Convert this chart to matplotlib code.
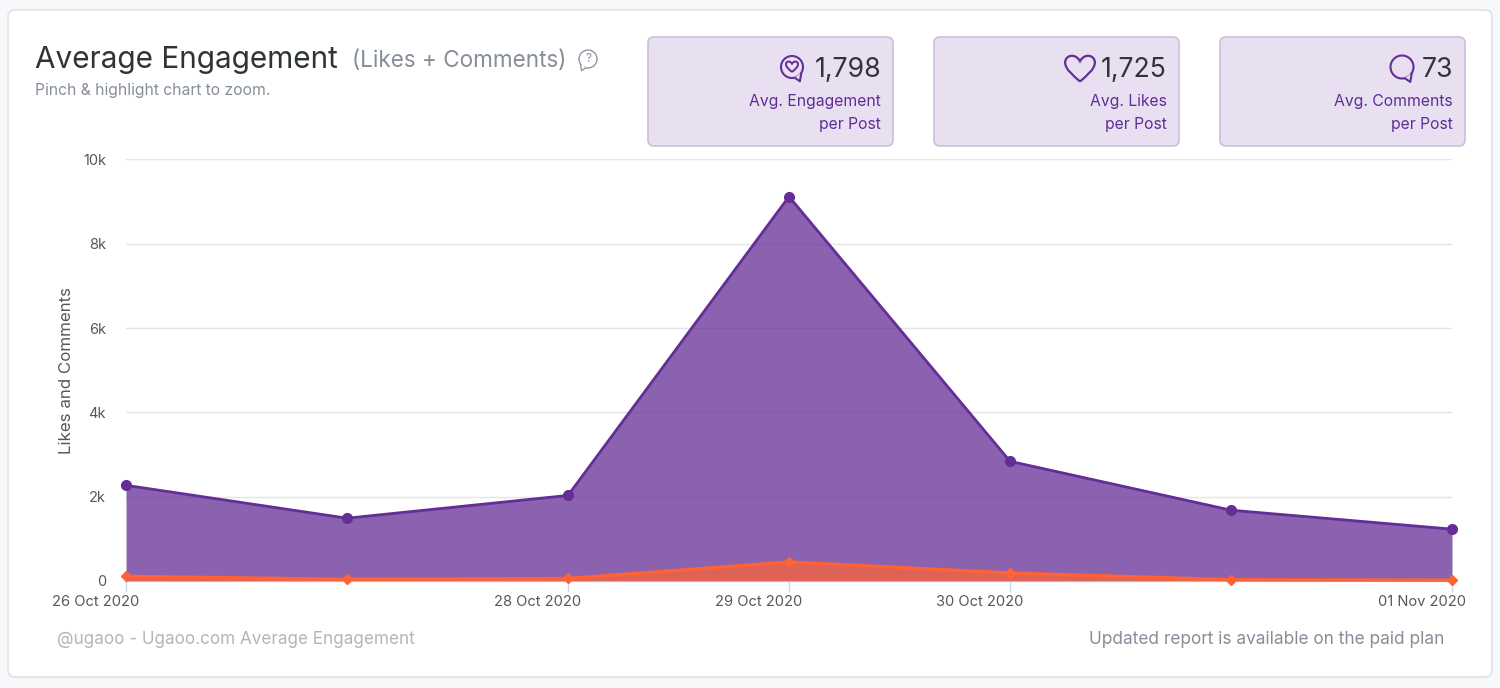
import matplotlib
matplotlib.use("Agg")
import matplotlib.pyplot as plt
import matplotlib.dates as mdates
from matplotlib.patches import FancyBboxPatch, PathPatch, Circle
from matplotlib.path import Path
from matplotlib.ticker import FuncFormatter
from matplotlib.transforms import ScaledTranslation
from datetime import date

# ---- data ----
dates = [date(2020, 10, 26), date(2020, 10, 27), date(2020, 10, 28), date(2020, 10, 29),
         date(2020, 10, 30), date(2020, 10, 31), date(2020, 11, 1)]
likes_comments = [2270, 1490, 2030, 9120, 2840, 1680, 1230]
comments = [110, 40, 60, 450, 190, 30, 20]
tick_dates = [date(2020, 10, 26), date(2020, 10, 28), date(2020, 10, 29), date(2020, 10, 30), date(2020, 11, 1)]
y_ticks = [0, 2000, 4000, 6000, 8000, 10000]
card_values = ["1,798", "1,725", "73"]
card_line1 = ["Avg. Engagement", "Avg. Likes", "Avg. Comments"]
card_line2 = ["per Post", "per Post", "per Post"]

FONT = ["Inter", "DejaVu Sans"]
plt.rcParams["font.family"] = FONT
W, H = 1500, 688
PURPLE = "#652d96"
ORANGE = "#ff6333"
CARD = "#e8e0f1"

fig = plt.figure(figsize=(W / 100, H / 100), dpi=100, facecolor="#f7f8fa")

# overlay in pixel coordinates for the page furniture
bg = fig.add_axes([0, 0, 1, 1], zorder=0)
bg.set_xlim(0, W); bg.set_ylim(H, 0); bg.axis("off")

bg.add_patch(FancyBboxPatch((8, 10), 1484, 667, boxstyle="round,pad=0,rounding_size=7",
                            fc="white", ec="#dfe2e8", lw=1.2))

# card boxes
card_left = [648, 934, 1220]
card_w, card_h = 245, 109
for x0, v, l1, l2 in zip(card_left, card_values, card_line1, card_line2):
    bg.add_patch(FancyBboxPatch((x0, 37), card_w, card_h, boxstyle="round,pad=0,rounding_size=6",
                                fc=CARD, ec="#c9c0da", lw=1.2))
    r = x0 + card_w - 12
    bg.text(r, 70, v, ha="right", va="center", fontsize=19.2, color="#2f3438")
    bg.text(r, 101.5, l1, ha="right", va="center", fontsize=11.3, color="#5f2c98")
    bg.text(r, 124.5, l2, ha="right", va="center", fontsize=11.3, color="#5f2c98")


def bubble(cx, cy, r, side, ec, fill, lw):
    """Speech bubble outline centred at cx, cy; side=+1 puts the tail lower right, -1 lower left."""
    bg.add_patch(Circle((cx, cy), r, fc="none", ec=ec, lw=lw))
    a = (cx + side * 0.25 * r, cy + 0.98 * r)
    tip = (cx + side * 0.72 * r, cy + 1.3 * r)
    b = (cx + side * 0.85 * r, cy + 0.52 * r)
    bg.add_patch(PathPatch(Path([a, tip, b, a], closed=True), fc=fill, ec="none", zorder=3))
    bg.add_patch(PathPatch(Path([a, tip, b]), fc="none", ec=ec, lw=lw, joinstyle="round", zorder=4))


def heart(cx, cy, s, ec, lw):
    path = Path([(cx, cy + s),
                 (cx - 0.5 * s, cy + 0.55 * s), (cx - 1.1 * s, cy + 0.1 * s), (cx - 1.1 * s, cy - 0.4 * s),
                 (cx - 1.1 * s, cy - 1.0 * s), (cx - 0.3 * s, cy - 1.1 * s), (cx, cy - 0.5 * s),
                 (cx + 0.3 * s, cy - 1.1 * s), (cx + 1.1 * s, cy - 1.0 * s), (cx + 1.1 * s, cy - 0.4 * s),
                 (cx + 1.1 * s, cy + 0.1 * s), (cx + 0.5 * s, cy + 0.55 * s), (cx, cy + s)],
                [Path.MOVETO] + [Path.CURVE4] * 12)
    bg.add_patch(PathPatch(path, fc="none", ec=ec, lw=lw))


bubble(792, 67, 11, 1, PURPLE, CARD, 1.5)
heart(792, 66.5, 5.5, PURPLE, 1.4)
heart(1080, 68, 13.5, PURPLE, 1.6)
bubble(1402, 67, 11.5, 1, PURPLE, CARD, 1.5)

# heading
bg.text(35, 59.5, "Average Engagement", ha="left", va="center", fontsize=21.4, color="#2f3438")
bg.text(352, 60.5, "(Likes + Comments)", ha="left", va="center", fontsize=16.2, color="#868e99")
bubble(588, 59, 9, -1, "#868e99", "white", 0.9)
bg.text(588, 59, "?", ha="center", va="center", fontsize=8.5, color="#868e99")
bg.text(35, 90, "Pinch & highlight chart to zoom.", ha="left", va="center", fontsize=11.3, color="#868e99")

# footer
bg.text(57, 639.5, "@ugaoo - Ugaoo.com Average Engagement", ha="left", va="center", fontsize=12.3, color="#b5b5b5")
bg.text(1444, 639.5, "Updated report is available on the paid plan", ha="right", va="center", fontsize=12.4, color="#868e99")

# chart
x = mdates.date2num(dates)
ax = fig.add_axes([126 / W, 1 - 581 / H, (1452 - 126) / W, (581 - 159.5) / H], zorder=2)
ax.patch.set_alpha(0)
ax.set_xlim(x[0], x[-1])
ax.set_ylim(0, 10000)

ax.fill_between(x, likes_comments, 0, color=PURPLE, alpha=0.75, lw=0, zorder=2)
ax.plot(x, likes_comments, color=PURPLE, lw=2, marker="o", ms=7, clip_on=False, zorder=4)
ax.fill_between(x, comments, 0, color=ORANGE, alpha=0.72, lw=0, zorder=3)
ax.plot(x, comments, color=ORANGE, lw=2.4, marker="D", ms=5.6, clip_on=False, zorder=5)

ax.set_yticks(y_ticks)
ax.yaxis.set_major_formatter(FuncFormatter(lambda v, _: "0" if v == 0 else f"{int(v / 1000)}k"))
ax.tick_params(axis="y", length=0, pad=14.4, labelsize=10.5, labelcolor="#55595e")
ax.grid(axis="y", color="#e3e5ea", lw=1)
ax.set_axisbelow(True)
ax.set_ylabel("Likes and Comments", fontsize=12.2, color="#55595e", labelpad=0)
ax.yaxis.set_label_coords((74 - 126) / (1452 - 126), 0.5)

ax.set_xticks(mdates.date2num(tick_dates))
ax.xaxis.set_major_formatter(mdates.DateFormatter("%d %b %Y"))
ax.tick_params(axis="x", length=8, width=1, color="#ccd6eb", pad=2, labelsize=10.6, labelcolor="#55595e")
offset = ScaledTranslation(-30 / 100, 0, fig.dpi_scale_trans)
for lab in ax.get_xticklabels():
    lab.set_transform(lab.get_transform() + offset)

for s in ["top", "right", "left"]:
    ax.spines[s].set_visible(False)
ax.spines["bottom"].set_color("#ccd6eb")
ax.spines["bottom"].set_linewidth(1)

fig.savefig("out.png", dpi=100, facecolor=fig.get_facecolor())
